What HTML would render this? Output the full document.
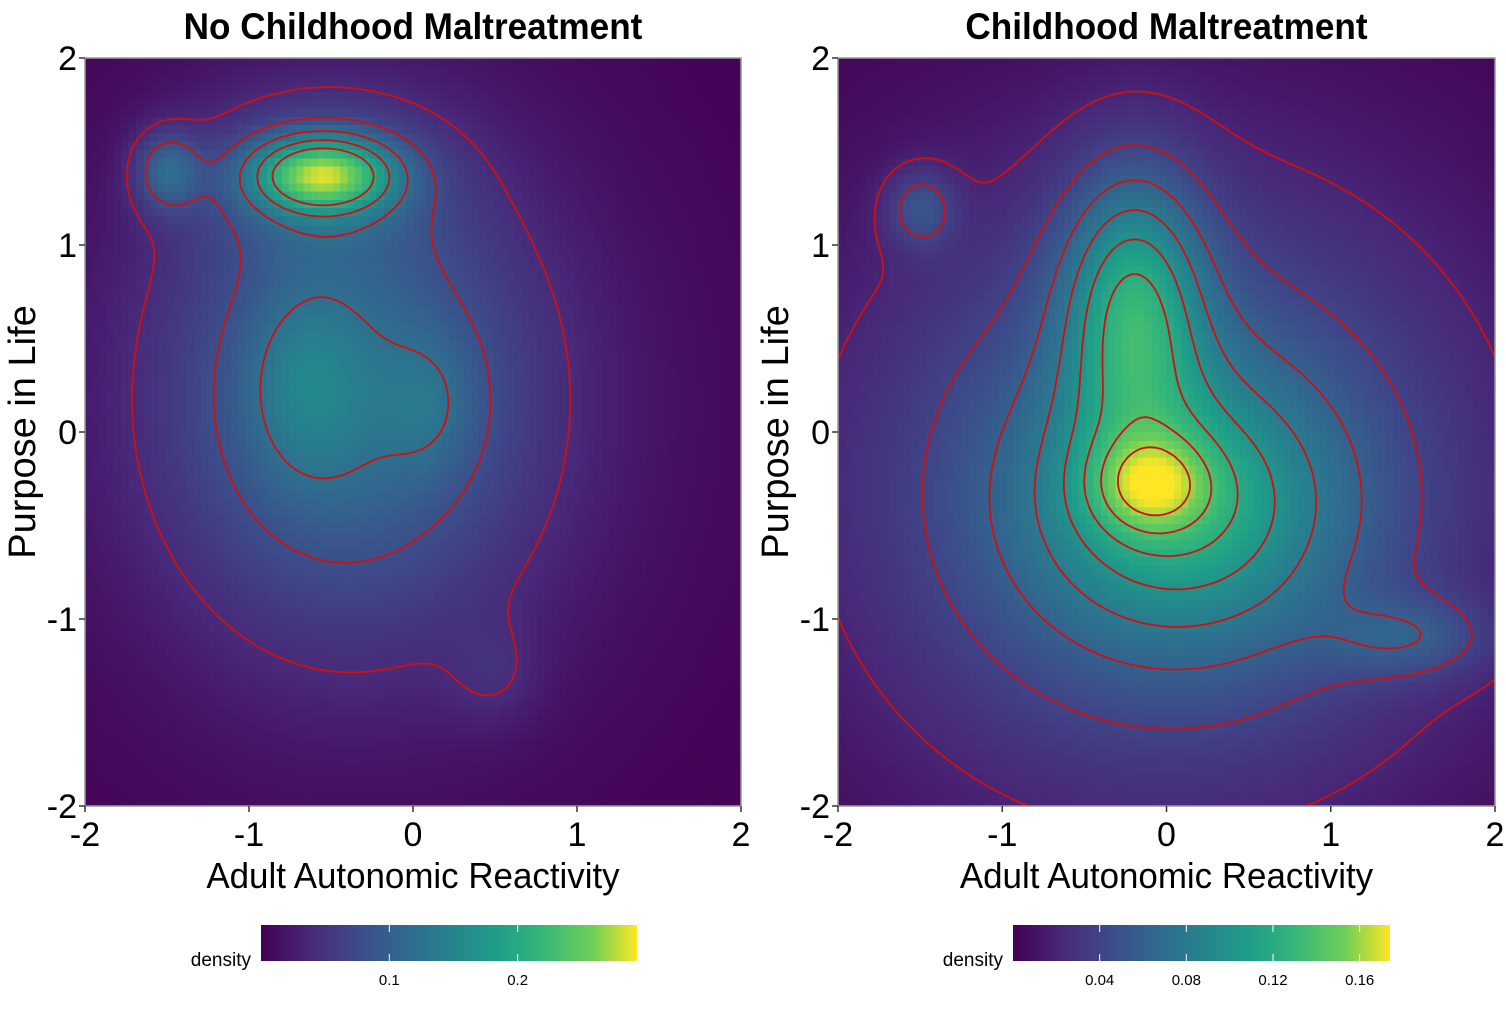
<!DOCTYPE html>
<html><head><meta charset="utf-8">
<style>
body{margin:0;background:#fff;}
svg{display:block;font-family:"Liberation Sans",sans-serif;}
</style></head>
<body>
<svg id="chart" width="1506" height="1012" viewBox="0 0 1506 1012">
<defs>
<linearGradient id="vir" x1="0" x2="1" y1="0" y2="0">
<stop offset="0" stop-color="#440154"/><stop offset="0.13" stop-color="#482878"/><stop offset="0.25" stop-color="#3e4989"/><stop offset="0.38" stop-color="#31688e"/><stop offset="0.5" stop-color="#26828e"/><stop offset="0.63" stop-color="#1f9e89"/><stop offset="0.75" stop-color="#35b779"/><stop offset="0.88" stop-color="#6ece58"/><stop offset="1" stop-color="#fde725"/>
</linearGradient>
<clipPath id="clipL"><rect x="85" y="58" width="656" height="748"/></clipPath>
<clipPath id="clipR"><rect x="838" y="58" width="657" height="748"/></clipPath>
</defs>
</svg>
<script>
// ---- data: kernel components ----
const xTicks=[-2,-1,0,1,2];
const yTicks=[-2,-1,0,1,2];
const leftCx=[-0.4,-0.3,-0.55,-0.6,-1.5,-0.65,0.1,0.5];
const leftCy=[0.2,0.1,1.38,1.35,1.4,0.25,0.15,-1.3];
const leftSx=[0.8,1.3,0.3,0.5,0.14,0.25,0.2,0.2];
const leftSy=[0.9,1.3,0.14,0.28,0.15,0.35,0.25,0.2];
const leftW=[0.09,0.03,0.18,0.05,0.08,0.04,0.03,0.02];
const leftLevels=[0.04,0.08,0.12,0.16,0.2];
const leftMax=0.293;
const leftCbTicks=[0.1,0.2];
const rightCx=[0,0.1,-0.1,-0.2,-1.5,1.5];
const rightCy=[-0.3,-0.4,-0.28,0.7,1.2,-1.1];
const rightSx=[1.4,0.65,0.25,0.3,0.15,0.35];
const rightSy=[1.2,0.5,0.18,0.5,0.15,0.15];
const rightW=[0.065,0.06,0.05,0.08,0.035,0.03];
const rightLevels=[0.02,0.04,0.06,0.08,0.1,0.12,0.14,0.16];
const rightMax=0.174;
const rightCbTicks=[0.04,0.08,0.12,0.16];

const NS='http://www.w3.org/2000/svg';
const svg=document.getElementById('chart');
function mk(tag,attrs,parent){const e=document.createElementNS(NS,tag);for(const k in attrs)e.setAttribute(k,attrs[k]);(parent||svg).appendChild(e);return e;}
const stops=[[68,1,84],[72,40,120],[62,73,137],[49,104,142],[38,130,142],[31,158,137],[53,183,121],[110,206,88],[253,231,37]];
function vir(t){t=Math.max(0,Math.min(1,t));const p=t*(stops.length-1);const i=Math.min(stops.length-2,Math.floor(p));const f=p-i;const a=stops[i],b=stops[i+1];return 'rgb('+a.map((v,k)=>Math.round(v+(b[k]-v)*f)).join(',')+')';}

function panel(o){
  const {x0,x1,y0,y1,cx,cy,sx,sy,w,levels,max,cbTicks,title,cbx0,cbx1,clip,name}=o;
  const g=mk('g',{},svg);
  
  
  const X=v=>x0+(v+2)/4*(x1-x0);
  const Y=v=>y1-(v+2)/4*(y1-y0);
  const dens=(x,y)=>{let s=0;for(let i=0;i<cx.length;i++){const dx=(x-cx[i])/sx[i],dy=(y-cy[i])/sy[i];s+=w[i]*Math.exp(-0.5*(dx*dx+dy*dy));}return s;};
  const hm=mk('g',{'shape-rendering':'crispEdges'},g);
  
  
  const N=90;
  for(let i=0;i<N;i++)for(let j=0;j<N;j++){
    const xa=-2+4*i/N,xb=-2+4*(i+1)/N,ya=-2+4*j/N,yb=-2+4*(j+1)/N;
    const d=dens((xa+xb)/2,(ya+yb)/2);
    mk('rect',{x:X(xa).toFixed(2),y:Y(yb).toFixed(2),width:(X(xb)-X(xa)+0.6).toFixed(2),height:(Y(ya)-Y(yb)+0.6).toFixed(2),fill:vir(d/max)},hm);
  }
  const M=200,grid=[];
  for(let i=0;i<=M;i++){grid.push([]);for(let j=0;j<=M;j++)grid[i].push(dens(-2.2+4.4*i/M,-2.2+4.4*j/M));}
  const P=(i,j)=>[-2.2+4.4*i/M,-2.2+4.4*j/M];
  levels.forEach(L=>{
    let d='';
    for(let i=0;i<M;i++)for(let j=0;j<M;j++){
      const c=[[i,j],[i+1,j],[i+1,j+1],[i,j+1]];
      const pts=[];
      for(let k=0;k<4;k++){const a=c[k],b=c[(k+1)%4];const va=grid[a[0]][a[1]]-L,vb=grid[b[0]][b[1]]-L;
        if((va<0)!==(vb<0)){const t=va/(va-vb);const pa=P(a[0],a[1]),pb=P(b[0],b[1]);pts.push([pa[0]+(pb[0]-pa[0])*t,pa[1]+(pb[1]-pa[1])*t]);}}
      for(let k=0;k+1<pts.length;k+=2)d+='M'+X(pts[k][0]).toFixed(1)+','+Y(pts[k][1]).toFixed(1)+'L'+X(pts[k+1][0]).toFixed(1)+','+Y(pts[k+1][1]).toFixed(1);
    }
    const p=mk('path',{d:d,stroke:'#d10f0f','stroke-width':1.8,fill:'none','clip-path':'url(#'+clip+')','stroke-linecap':'round'},g);
    
    
  });
  const fr=mk('rect',{x:x0,y:y0,width:x1-x0,height:y1-y0,fill:'none',stroke:'#999','stroke-width':1.5},g);
  
  
  xTicks.forEach(v=>{
    mk('line',{x1:X(v),x2:X(v),y1:y1,y2:y1+6,stroke:'#333','stroke-width':1.5},g);
    const t=mk('text',{x:X(v),y:y1+40,'font-size':34,'text-anchor':'middle',fill:'#000'},g);t.textContent=String(v);
    
    
  });
  yTicks.forEach(v=>{
    mk('line',{x1:x0-6,x2:x0,y1:Y(v),y2:Y(v),stroke:'#333','stroke-width':1.5},g);
    const t=mk('text',{x:x0-8,y:Y(v)+12,'font-size':34,'text-anchor':'end',fill:'#000'},g);t.textContent=String(v);
    
    
  });
  const tt=mk('text',{x:(x0+x1)/2,y:39,'font-size':37,'font-weight':'bold','text-anchor':'middle',transform:'translate('+(x0+x1)/2+' 0) scale(0.95 1) translate('+(-(x0+x1)/2)+' 0)'},g);tt.textContent=title;
  
  
  const xt=mk('text',{x:(x0+x1)/2,y:888,'font-size':36,'text-anchor':'middle',transform:'translate('+(x0+x1)/2+' 0) scale(0.97 1) translate('+(-(x0+x1)/2)+' 0)'},g);xt.textContent='Adult Autonomic Reactivity';
  
  
  const yc=(y0+y1)/2;
  const yt=mk('text',{x:x0-50,y:yc,'font-size':38,'text-anchor':'middle',transform:'rotate(-90 '+(x0-50)+' '+yc+')'},g);yt.textContent='Purpose in Life';
  
  
  const cb=mk('rect',{x:cbx0,y:925,width:cbx1-cbx0,height:36,fill:'url(#vir)'},g);
  
  
  const cbX=v=>cbx0+v/max*(cbx1-cbx0);
  cbTicks.forEach(v=>{
    mk('line',{x1:cbX(v),x2:cbX(v),y1:925,y2:932,stroke:'#fff','stroke-width':1},g);
    mk('line',{x1:cbX(v),x2:cbX(v),y1:954,y2:961,stroke:'#fff','stroke-width':1},g);
    const t=mk('text',{x:cbX(v),y:985,'font-size':15,'text-anchor':'middle'},g);t.textContent=String(v);
    
    
  });
  const dl=mk('text',{x:cbx0-10,y:966,'font-size':19,'text-anchor':'end'},g);dl.textContent='density';
  
  
}
panel({x0:85,x1:741,y0:58,y1:806,cx:leftCx,cy:leftCy,sx:leftSx,sy:leftSy,w:leftW,levels:leftLevels,max:leftMax,cbTicks:leftCbTicks,title:'No Childhood Maltreatment',cbx0:261,cbx1:637,clip:'clipL',name:'panel-no-maltreatment'});
panel({x0:838,x1:1495,y0:58,y1:806,cx:rightCx,cy:rightCy,sx:rightSx,sy:rightSy,w:rightW,levels:rightLevels,max:rightMax,cbTicks:rightCbTicks,title:'Childhood Maltreatment',cbx0:1013,cbx1:1390,clip:'clipR',name:'panel-maltreatment'});
</script>
</body></html>
